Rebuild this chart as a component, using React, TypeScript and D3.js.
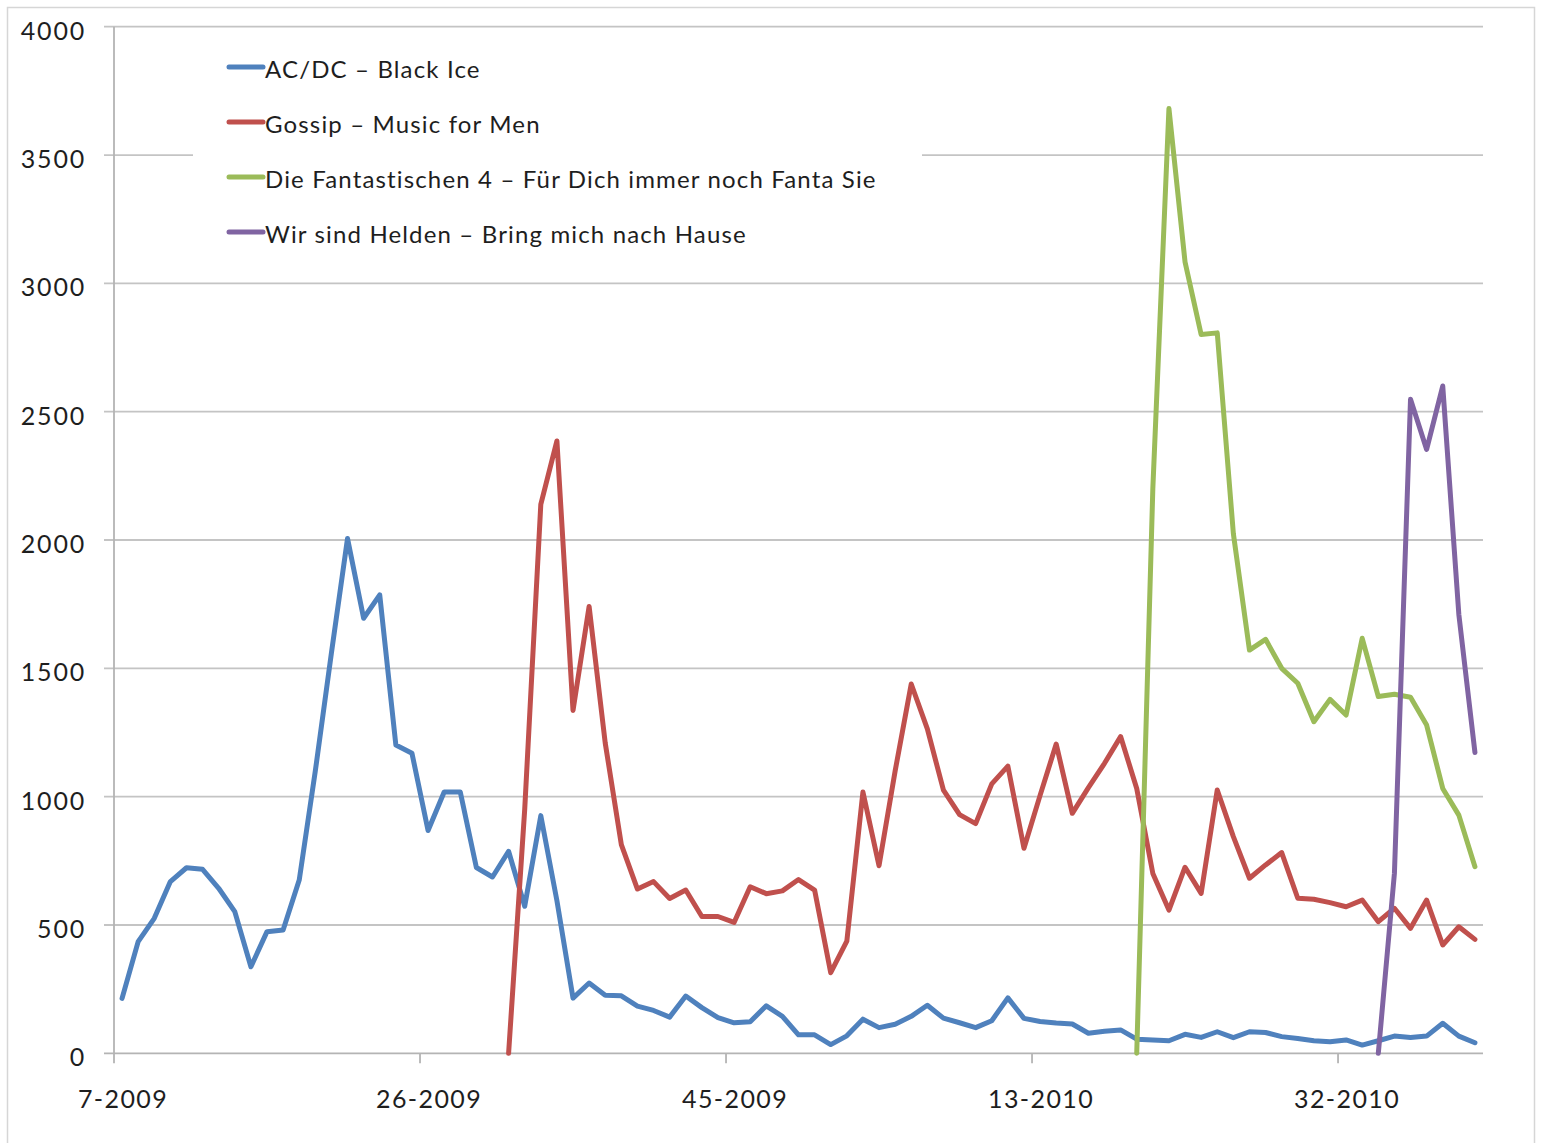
import React from "react";
import * as d3 from "d3";

// ---- data (weekly values) ----
const acdcValues = [
  214, 435, 526, 669, 723, 717, 643, 552, 337, 474, 480, 675, 1100, 1560, 2006, 1695, 1786, 1201, 1169, 868,
  1018, 1018, 724, 687, 787, 573, 926, 595, 215, 274, 226, 224, 184, 167, 141, 223, 178, 139, 119, 123,
  185, 144, 72, 72, 34, 68, 133, 100, 113, 144, 187, 137, 119, 100, 127, 216, 136, 124, 118, 114,
  78, 86, 91, 55, 52, 49, 74, 62, 84, 61, 84, 81, 65, 58, 49, 45, 52, 32, 49, 67,
  62, 67, 117, 67, 41,
];
const acdcStart = 0;

const gossipValues = [
  0, 950, 2139, 2386, 1336, 1741, 1209, 813, 640, 669, 603, 636, 533, 533, 510, 649, 622, 633, 677, 636,
  314, 437, 1018, 731, 1100, 1439, 1264, 1025, 930, 895, 1050, 1119, 799, 1005, 1205, 935, 1035, 1130, 1234, 1032,
  701, 558, 725, 623, 1026, 844, 682, 734, 782, 604, 600, 587, 571, 597, 513, 565, 487, 597, 422, 493,
  444,
];
const gossipStart = 24;

const fanta4Values = [
  0, 2200, 3681, 3083, 2801, 2807, 2025, 1571, 1613, 1500, 1442, 1292, 1379, 1318, 1617, 1390, 1399, 1387, 1279, 1032,
  928, 727,
];
const fanta4Start = 63;

const helmValues = [0, 701, 2548, 2353, 2600, 1710, 1172];
const helmStart = 78;

const seriesNames = [
  "AC/DC – Black Ice",
  "Gossip – Music for Men",
  "Die Fantastischen 4 – Für Dich immer noch Fanta Sie",
  "Wir sind Helden – Bring mich nach Hause",
];
const seriesColors = ["#4F81BD", "#C0504D", "#9BBB59", "#8064A2"];

const xTickLabels = ["7-2009", "26-2009", "45-2009", "13-2010", "32-2010"];
const xTickEvery = 19;
const yTicks = [0, 500, 1000, 1500, 2000, 2500, 3000, 3500, 4000];

// ---- layout ----
const W = 1542;
const H = 1143;
const plotLeft = 114;
const plotRight = 1483;
const plotTop = 26.7;
const plotBottom = 1053.3;
const FONT = "Lato, 'Open Sans', sans-serif";

export default function App() {
  const nCat = acdcValues.length;
  const idx = d3.range(nCat);
  const x = d3.scaleBand<number>().domain(idx).range([plotLeft, plotRight]).padding(0);
  const y = d3.scaleLinear().domain([0, 4000]).range([plotBottom, plotTop]);
  const cx = (i: number) => (x(i) as number) + x.bandwidth() / 2;

  const series = [
    { start: acdcStart, values: acdcValues },
    { start: gossipStart, values: gossipValues },
    { start: fanta4Start, values: fanta4Values },
    { start: helmStart, values: helmValues },
  ];

  const makePath = (start: number, values: number[]) =>
    d3
      .line<number>()
      .x((_, i) => cx(start + i))
      .y((d) => y(d))(values) || "";

  const tickIdx = xTickLabels.map((_, k) => k * xTickEvery);

  const gridColor = "#c4c4c4";
  const axisColor = "#b4b4b4";
  const textColor = "#1e1e1e";

  const legendX = 193;
  const legendY = 40;
  const legendW = 729;
  const legendH = 222;

  return (
    <svg
      width={W}
      height={H}
      style={{ position: "absolute", left: 0, top: 0, background: "#fff" }}
      fontFamily={FONT}
    >
      <rect x={0} y={0} width={W} height={H} fill="#fff" />
      {/* outer frame */}
      <rect x={7.5} y={7.5} width={1527} height={1170} fill="none" stroke="#d6d6d6" strokeWidth={1.5} />

      {/* gridlines */}
      {yTicks.map((t) => (
        <line
          key={"g" + t}
          x1={plotLeft - 10}
          x2={plotRight}
          y1={y(t)}
          y2={y(t)}
          stroke={t === 0 ? axisColor : gridColor}
          strokeWidth={1.8}
        />
      ))}

      {/* y axis */}
      <line x1={plotLeft} x2={plotLeft} y1={plotTop} y2={plotBottom} stroke={axisColor} strokeWidth={1.8} />
      {yTicks.map((t) => (
        <text
          key={"yl" + t}
          x={86}
          y={y(t) + 3}
          textAnchor="end"
          dominantBaseline="central"
          fontSize={25}
          letterSpacing={1.8}
          fill={textColor}
        >
          {t}
        </text>
      ))}

      {/* x axis ticks and labels */}
      {tickIdx.map((i, k) => (
        <g key={"xt" + i}>
          <line
            x1={x(i) as number}
            x2={x(i) as number}
            y1={plotBottom}
            y2={plotBottom + 10}
            stroke={axisColor}
            strokeWidth={1.8}
          />
          <text
            x={cx(i) + 1}
            y={1108}
            textAnchor="middle"
            fontSize={25}
            letterSpacing={1.4}
            fill={textColor}
          >
            {xTickLabels[k]}
          </text>
        </g>
      ))}

      {/* legend */}
      <rect x={legendX} y={legendY} width={legendW} height={legendH} fill="#fff" />
      {seriesNames.map((name, k) => {
        const ly = 67 + k * 55;
        return (
          <g key={"lg" + k}>
            <line x1={229} x2={263} y1={ly} y2={ly} stroke={seriesColors[k]} strokeWidth={5} strokeLinecap="round" />
            <text
              x={265}
              y={ly + 1}
              dominantBaseline="central"
              fontSize={24}
              letterSpacing={1.15}
              fill={textColor}
            >
              {name}
            </text>
          </g>
        );
      })}

      {/* series */}
      {series.map((s, k) => (
        <path
          key={"s" + k}
          d={makePath(s.start, s.values)}
          fill="none"
          stroke={seriesColors[k]}
          strokeWidth={5}
          strokeLinejoin="round"
          strokeLinecap="round"
        />
      ))}
    </svg>
  );
}
